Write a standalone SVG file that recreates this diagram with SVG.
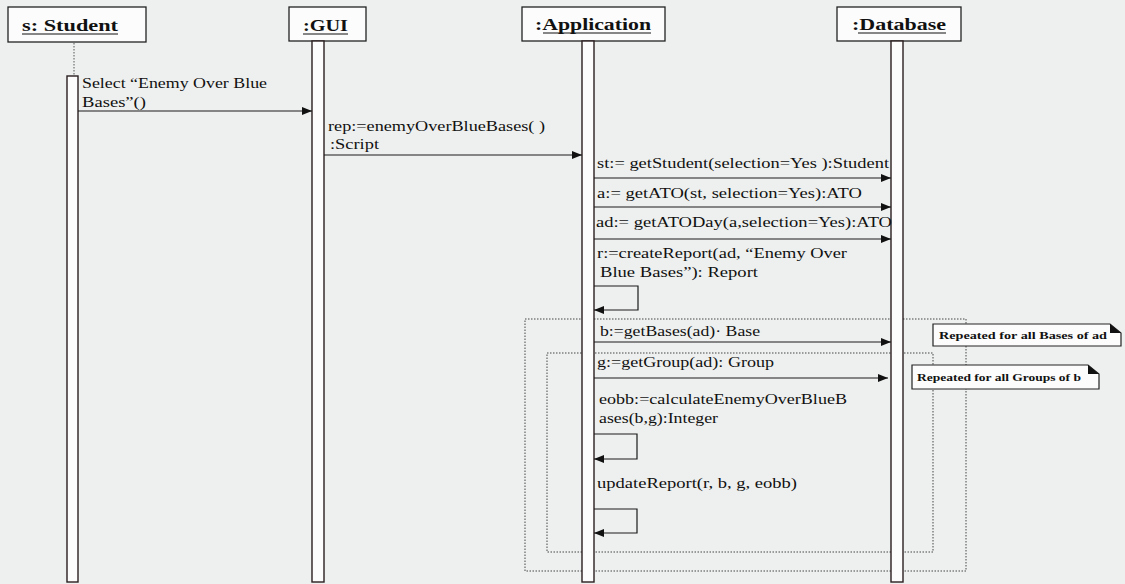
<svg xmlns="http://www.w3.org/2000/svg" width="1125" height="584" viewBox="0 0 1125 584">
<style>
.bg{fill:#eef0ef}
.hdr{fill:#fbfcfb;stroke:#222;stroke-width:1.3}
.hdrt{font-family:"Liberation Serif",serif;font-weight:bold;font-size:17px;fill:#111}
.ul{stroke:#111;stroke-width:1}
.bar{fill:#fbfcfb;stroke:#2a1e20;stroke-width:1.4}
.msg{stroke:#1a1a1a;stroke-width:1.2;fill:none}
.t{font-family:"Liberation Serif",serif;font-size:14px;fill:#111}
.nt{font-family:"Liberation Serif",serif;font-size:11px;font-weight:bold;fill:#111}
.frame{fill:none;stroke:#444;stroke-width:1;stroke-dasharray:1.5 1.5}
.note{fill:#fbfcfb;stroke:#222;stroke-width:1.2}
.dot{stroke:#555;stroke-width:1;stroke-dasharray:1.5 1.5}
</style>
<defs>
<marker id="ah" viewBox="0 0 10 8" refX="10" refY="4" markerWidth="10" markerHeight="8" markerUnits="userSpaceOnUse" orient="auto">
<path d="M0,0 L10,4 L0,8 Z" fill="#111"/>
</marker>
</defs>
<rect class="bg" x="0" y="0" width="1125" height="584"/>

<!-- frames -->
<g id="frames">
<rect class="frame" x="525" y="319" width="441" height="252"/>
<rect class="frame" x="547" y="353" width="386" height="199"/>
</g>

<g id="student">
<rect class="hdr" x="8" y="7" width="138" height="35"/>
<text class="hdrt" x="22" y="31" textLength="96" lengthAdjust="spacingAndGlyphs">s: Student</text>
<line class="ul" x1="22" y1="34" x2="118" y2="34"/>
<line class="dot" x1="74" y1="43" x2="74" y2="76"/>
<rect class="bar" x="67" y="76" width="11" height="506"/>
</g>

<g id="gui">
<rect class="hdr" x="289" y="7" width="77" height="34"/>
<text class="hdrt" x="303" y="31" textLength="45" lengthAdjust="spacingAndGlyphs">:GUI</text>
<line class="ul" x1="303" y1="34" x2="348" y2="34"/>
<rect class="bar" x="312" y="41" width="12" height="541"/>
</g>

<g id="application">
<rect class="hdr" x="522" y="7" width="143" height="34"/>
<text class="hdrt" x="535" y="30" textLength="116" lengthAdjust="spacingAndGlyphs">:Application</text>
<line class="ul" x1="543" y1="33" x2="651" y2="33"/>
<rect class="bar" x="582" y="41" width="12" height="541"/>
</g>

<g id="database">
<rect class="hdr" x="837" y="7" width="124" height="34"/>
<text class="hdrt" x="852" y="30" textLength="94" lengthAdjust="spacingAndGlyphs">:Database</text>
<line class="ul" x1="858" y1="33" x2="946" y2="33"/>
<rect class="bar" x="891" y="41" width="12" height="541"/>
</g>

<g id="connectors">
<line class="msg" x1="78" y1="111" x2="312" y2="111" marker-end="url(#ah)"/>
<line class="msg" x1="324" y1="155" x2="582" y2="155" marker-end="url(#ah)"/>
<line class="msg" x1="594" y1="178" x2="891" y2="178" marker-end="url(#ah)"/>
<line class="msg" x1="594" y1="207" x2="891" y2="207" marker-end="url(#ah)"/>
<line class="msg" x1="594" y1="239" x2="891" y2="239" marker-end="url(#ah)"/>
<path class="msg" d="M594,286 H638 V310 H594" marker-end="url(#ah)"/>
<line class="msg" x1="594" y1="342" x2="891" y2="342" marker-end="url(#ah)"/>
<line class="msg" x1="594" y1="378" x2="888" y2="378" marker-end="url(#ah)"/>
<path class="msg" d="M594,434 H637 V459 H594" marker-end="url(#ah)"/>
<path class="msg" d="M594,509 H637 V533 H594" marker-end="url(#ah)"/>
</g>

<g id="labels">
<text class="t" x="82" y="88" textLength="185" lengthAdjust="spacingAndGlyphs">Select “Enemy Over Blue</text>
<text class="t" x="82" y="107" textLength="64" lengthAdjust="spacingAndGlyphs">Bases”()</text>
<text class="t" x="328" y="131" textLength="217" lengthAdjust="spacingAndGlyphs">rep:=enemyOverBlueBases( )</text>
<text class="t" x="330" y="149" textLength="49" lengthAdjust="spacingAndGlyphs">:Script</text>
<text class="t" x="597" y="168" textLength="292" lengthAdjust="spacingAndGlyphs">st:= getStudent(selection=Yes ):Student</text>
<text class="t" x="597" y="198" textLength="265" lengthAdjust="spacingAndGlyphs">a:= getATO(st, selection=Yes):ATO</text>
<text class="t" x="596" y="227" textLength="296" lengthAdjust="spacingAndGlyphs">ad:= getATODay(a,selection=Yes):ATO</text>
<text class="t" x="597" y="258" textLength="250" lengthAdjust="spacingAndGlyphs">r:=createReport(ad, “Enemy Over</text>
<text class="t" x="600" y="277" textLength="158" lengthAdjust="spacingAndGlyphs">Blue Bases”): Report</text>
<text class="t" x="600" y="336" textLength="160" lengthAdjust="spacingAndGlyphs">b:=getBases(ad)· Base</text>
<text class="t" x="597" y="367" textLength="177" lengthAdjust="spacingAndGlyphs">g:=getGroup(ad): Group</text>
<text class="t" x="599" y="404" textLength="248" lengthAdjust="spacingAndGlyphs">eobb:=calculateEnemyOverBlueB</text>
<text class="t" x="599" y="423" textLength="119" lengthAdjust="spacingAndGlyphs">ases(b,g):Integer</text>
<text class="t" x="597" y="488" textLength="200" lengthAdjust="spacingAndGlyphs">updateReport(r, b, g, eobb)</text>
</g>

<g id="note1">
<path class="note" d="M933,324 H1110 L1121,333 V346 H933 Z"/>
<path d="M1110,324 L1121,333 L1110,333 Z" fill="#111"/>
<text class="nt" x="939" y="339" textLength="168" lengthAdjust="spacingAndGlyphs">Repeated for all Bases of ad</text>
</g>

<g id="note2">
<path class="note" d="M912,365 H1088 L1099,374 V389 H912 Z"/>
<path d="M1088,365 L1099,374 L1088,374 Z" fill="#111"/>
<text class="nt" x="917" y="381" textLength="164" lengthAdjust="spacingAndGlyphs">Repeated for all Groups of b</text>
</g>
</svg>
